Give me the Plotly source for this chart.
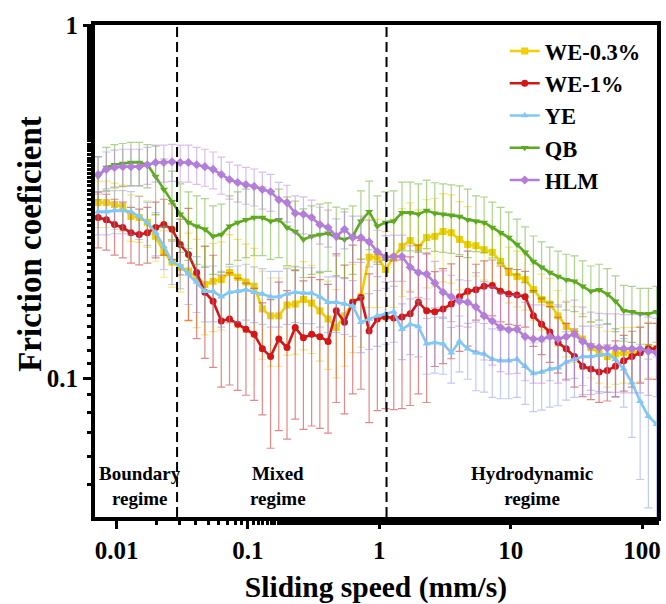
import numpy as np
import plotly.graph_objects as go

# Sliding speed (mm/s)
speed = [0.007244, 0.008366, 0.009660, 0.01116, 0.01288, 0.01488, 0.01718, 0.01984,
         0.02291, 0.02645, 0.03055, 0.03528, 0.04074, 0.04704, 0.05433, 0.06273,
         0.07244, 0.08366, 0.09660, 0.1116, 0.1288, 0.1488, 0.1718, 0.1984,
         0.2291, 0.2645, 0.3055, 0.3528, 0.4074, 0.4704, 0.5433, 0.6273,
         0.7244, 0.8366, 0.9660, 1.116, 1.288, 1.488, 1.718, 1.984,
         2.291, 2.645, 3.055, 3.528, 4.074, 4.704, 5.433, 6.273,
         7.244, 8.366, 9.660, 11.16, 12.88, 14.88, 17.18, 19.84,
         22.91, 26.45, 30.55, 35.28, 40.74, 47.04, 54.33, 62.73,
         72.44, 83.66, 96.60, 111.6, 128.8]

we03 = [0.314, 0.314, 0.310, 0.306, 0.287, 0.285, 0.276, 0.252, 0.227, 0.213, 0.206, 0.201,
        0.193, 0.184, 0.188, 0.190, 0.199, 0.193, 0.187, 0.182, 0.157, 0.150, 0.150,
        0.161, 0.162, 0.167, 0.163, 0.155, 0.147, 0.139, 0.150, 0.164, 0.170, 0.220, 0.220,
        0.203, 0.220, 0.236, 0.245, 0.234, 0.250, 0.252, 0.260, 0.258, 0.247, 0.239,
        0.237, 0.231, 0.227, 0.214, 0.199, 0.194, 0.190, 0.178, 0.167, 0.162, 0.150, 0.140,
        0.135, 0.129, 0.122, 0.118, 0.115, 0.117, 0.118, 0.118, 0.119, 0.122, 0.121]
we1 = [0.285, 0.281, 0.272, 0.267, 0.258, 0.255, 0.258, 0.267, 0.272, 0.264, 0.239, 0.224,
       0.199, 0.175, 0.165, 0.145, 0.147, 0.142, 0.1375, 0.133, 0.121, 0.115, 0.129,
       0.122, 0.139, 0.130, 0.133, 0.131, 0.127, 0.155, 0.144, 0.164, 0.169, 0.136, 0.147,
       0.149, 0.148, 0.149, 0.152, 0.164, 0.155, 0.154, 0.157, 0.162, 0.170, 0.176,
       0.178, 0.182, 0.183, 0.176, 0.173, 0.172, 0.170, 0.150, 0.142, 0.135, 0.126, 0.121,
       0.115, 0.108, 0.106, 0.104, 0.105, 0.108, 0.112, 0.115, 0.118, 0.121, 0.121]
ye = [0.296, 0.296, 0.298, 0.298, 0.296, 0.287, 0.276, 0.258, 0.236, 0.214, 0.208, 0.197,
      0.187, 0.176, 0.176, 0.170, 0.175, 0.176, 0.178, 0.175, 0.173, 0.170, 0.170,
      0.173, 0.175, 0.174, 0.174, 0.170, 0.164, 0.164, 0.162, 0.160, 0.144, 0.147, 0.150,
      0.152, 0.154, 0.1375, 0.142, 0.140, 0.125, 0.126, 0.125, 0.118, 0.127, 0.121,
      0.118, 0.117, 0.113, 0.112, 0.112, 0.113, 0.108, 0.103, 0.104, 0.106, 0.107, 0.111,
      0.113, 0.115, 0.115, 0.116, 0.117, 0.113, 0.106, 0.097, 0.086, 0.078, 0.074]
qb = [0.372, 0.395, 0.402, 0.405, 0.408, 0.408, 0.402, 0.372, 0.342, 0.316, 0.291, 0.276,
      0.269, 0.264, 0.252, 0.255, 0.269, 0.276, 0.281, 0.285, 0.285, 0.278, 0.281,
      0.267, 0.260, 0.247, 0.252, 0.255, 0.257, 0.250, 0.247, 0.252, 0.278, 0.296, 0.269,
      0.276, 0.278, 0.294, 0.294, 0.291, 0.298, 0.293, 0.291, 0.289, 0.287, 0.281,
      0.278, 0.276, 0.267, 0.258, 0.250, 0.239, 0.227, 0.214, 0.206, 0.199, 0.194, 0.190,
      0.188, 0.182, 0.176, 0.178, 0.173, 0.165, 0.155, 0.154, 0.152, 0.152, 0.154]
hlm = [0.377, 0.390, 0.395, 0.397, 0.397, 0.397, 0.402, 0.408, 0.408, 0.410, 0.408, 0.408,
       0.402, 0.397, 0.390, 0.377, 0.365, 0.358, 0.353, 0.349, 0.342, 0.337, 0.320,
       0.314, 0.293, 0.291, 0.285, 0.272, 0.267, 0.252, 0.264, 0.250, 0.250, 0.243, 0.228,
       0.220, 0.221, 0.221, 0.206, 0.199, 0.197, 0.186, 0.175, 0.170, 0.165, 0.164,
       0.159, 0.150, 0.145, 0.139, 0.137, 0.1375, 0.131, 0.129, 0.129, 0.131, 0.129, 0.131,
       0.133, 0.127, 0.123, 0.122, 0.1215, 0.1215, 0.121, 0.121, 0.121, 0.119, 0.118]

# relative standard deviations (fraction of the mean)
we03_rel = [0.15, 0.15, 0.15, 0.15, 0.15, 0.15, 0.15, 0.15, 0.15, 0.15, 0.15, 0.28,
            0.28, 0.28, 0.28, 0.28, 0.28, 0.28, 0.28, 0.28, 0.28, 0.28, 0.28, 0.28,
            0.28, 0.28, 0.28, 0.28, 0.28, 0.28, 0.28, 0.28, 0.28, 0.28, 0.28, 0.28,
            0.28, 0.28, 0.28, 0.28, 0.28, 0.28, 0.28, 0.28, 0.28, 0.28, 0.18, 0.18,
            0.18, 0.18, 0.18, 0.18, 0.18, 0.18, 0.18, 0.18, 0.18, 0.18, 0.18, 0.18,
            0.18, 0.18, 0.18, 0.18, 0.18, 0.18, 0.18, 0.18, 0.18]
we1_rel = [0.18, 0.18, 0.18, 0.18, 0.18, 0.18, 0.18, 0.18, 0.18, 0.18, 0.18, 0.35,
           0.35, 0.35, 0.35, 0.35, 0.35, 0.35, 0.35, 0.35, 0.35, 0.45, 0.45, 0.45,
           0.45, 0.45, 0.45, 0.45, 0.45, 0.45, 0.45, 0.45, 0.45, 0.45, 0.45, 0.45,
           0.45, 0.45, 0.45, 0.45, 0.45, 0.30, 0.30, 0.30, 0.30, 0.30, 0.18, 0.18,
           0.18, 0.18, 0.18, 0.18, 0.18, 0.18, 0.18, 0.18, 0.18, 0.18, 0.18, 0.18,
           0.18, 0.18, 0.18, 0.18, 0.18, 0.18, 0.18, 0.18, 0.18]
ye_rel = [0.14, 0.14, 0.14, 0.14, 0.14, 0.14, 0.14, 0.14, 0.14, 0.14, 0.14, 0.18,
          0.18, 0.18, 0.18, 0.18, 0.18, 0.18, 0.18, 0.18, 0.18, 0.18, 0.18, 0.18,
          0.18, 0.18, 0.18, 0.18, 0.18, 0.18, 0.18, 0.18, 0.18, 0.18, 0.18, 0.18,
          0.18, 0.18, 0.18, 0.18, 0.18, 0.18, 0.18, 0.18, 0.18, 0.18, 0.22, 0.22,
          0.22, 0.22, 0.22, 0.22, 0.22, 0.22, 0.22, 0.22, 0.22, 0.22, 0.22, 0.22,
          0.22, 0.22, 0.22, 0.22, 0.22, 0.30, 0.40, 0.45, 0.55]
qb_rel = [0.14, 0.14, 0.14, 0.14, 0.14, 0.14, 0.14, 0.22, 0.22, 0.22, 0.22, 0.22,
          0.22, 0.22, 0.22, 0.22, 0.22, 0.22, 0.22, 0.22, 0.22, 0.22, 0.22, 0.22,
          0.22, 0.22, 0.22, 0.22, 0.22, 0.22, 0.22, 0.22, 0.22, 0.22, 0.22, 0.22,
          0.22, 0.22, 0.22, 0.22, 0.22, 0.22, 0.22, 0.22, 0.22, 0.22, 0.18, 0.18,
          0.18, 0.18, 0.18, 0.18, 0.18, 0.18, 0.18, 0.18, 0.18, 0.18, 0.18, 0.18,
          0.18, 0.18, 0.18, 0.18, 0.18, 0.18, 0.18, 0.18, 0.18]
hlm_rel = [0.12, 0.12, 0.12, 0.12, 0.12, 0.12, 0.12, 0.12, 0.12, 0.12, 0.12, 0.12,
           0.12, 0.12, 0.12, 0.12, 0.12, 0.12, 0.12, 0.12, 0.12, 0.12, 0.12, 0.12,
           0.12, 0.12, 0.12, 0.12, 0.12, 0.12, 0.12, 0.15, 0.15, 0.15, 0.15, 0.15,
           0.15, 0.15, 0.15, 0.15, 0.15, 0.15, 0.15, 0.15, 0.15, 0.15, 0.25, 0.25,
           0.25, 0.25, 0.25, 0.25, 0.25, 0.25, 0.25, 0.25, 0.25, 0.25, 0.25, 0.25,
           0.25, 0.25, 0.25, 0.25, 0.25, 0.25, 0.25, 0.25, 0.25]

series_names = ["WE-0.3%", "WE-1%", "YE", "QB", "HLM"]
regime_bounds = [0.0289, 1.135]
regime_labels = ["Boundary<br>regime", "Mixed<br>regime", "Hydrodynamic<br>regime"]

FONT = "Liberation Serif"
styles = [
    (we03, we03_rel, "rgb(240,208,0)", "rgba(240,208,0,0.5)", "square"),
    (we1, we1_rel, "rgb(212,22,22)", "rgba(200,40,40,0.55)", "circle"),
    (ye, ye_rel, "rgb(128,200,245)", "rgba(130,150,230,0.5)", "triangle-up"),
    (qb, qb_rel, "rgb(92,170,30)", "rgba(92,170,30,0.5)", "triangle-down"),
    (hlm, hlm_rel, "rgb(178,126,218)", "rgba(178,126,218,0.5)", "diamond"),
]

fig = go.Figure()
for name, (vals, rel, col, ecol, sym) in zip(series_names, styles):
    err = np.array(vals) * np.array(rel)
    fig.add_trace(go.Scatter(
        x=speed, y=vals, name=name, mode="lines+markers",
        line=dict(color=col, width=2.6),
        marker=dict(symbol=sym, size=7, color=col),
        error_y=dict(type="data", array=err, visible=True, color=ecol,
                     thickness=1.2, width=4),
    ))

for xb in regime_bounds:
    fig.add_shape(type="line", xref="x", yref="y domain", x0=xb, x1=xb, y0=0, y1=1,
                  line=dict(color="black", width=2, dash="10px,5px"))

label_x = [0.0795, 0.326, 0.777]
for lx, txt in zip(label_x, regime_labels):
    fig.add_annotation(xref="paper", yref="paper", x=lx, y=0.063, text=txt,
                       showarrow=False, xanchor="center", yanchor="middle",
                       font=dict(family=FONT, size=19, color="black", weight="bold"))

fig.add_annotation(xref="paper", yref="paper", x=-0.115, y=0.556,
                   text="Friction coeficient", textangle=-90, showarrow=False,
                   xanchor="center", yanchor="middle",
                   font=dict(family=FONT, size=33, color="black", weight="bold"))

xr = [np.log10(0.00686), np.log10(129.8)]
yr = [np.log10(0.0404), 0.0]

fig.update_layout(
    width=666, height=604,
    margin=dict(l=95, r=5, t=25, b=86),
    paper_bgcolor="white", plot_bgcolor="white",
    font=dict(family=FONT, color="black"),
    showlegend=True,
    legend=dict(x=0.729, y=0.99, xanchor="left", yanchor="top",
                bgcolor="rgba(0,0,0,0)", borderwidth=0,
                font=dict(family=FONT, size=22.5, color="black", weight="bold"),
                tracegroupgap=0),
    xaxis=dict(type="log", range=xr, showgrid=False, zeroline=False,
               showline=True, linecolor="black", linewidth=4, mirror=True,
               ticks="outside", ticklen=8, tickwidth=3, tickcolor="black",
               tickvals=[0.01, 0.1, 1, 10, 100],
               ticktext=["0.01", "0.1", "1", "10", "100"],
               tickfont=dict(family=FONT, size=25, color="black", weight="bold"),
               minor=dict(ticks="outside", ticklen=4, tickwidth=3, tickcolor="black",
                          showgrid=False),
               title=dict(text="Sliding speed (mm/s)", standoff=14,
                          font=dict(family=FONT, size=29.5, color="black", weight="bold"))),
    yaxis=dict(type="log", range=yr, showgrid=False, zeroline=False,
               showline=True, linecolor="black", linewidth=4, mirror=True,
               ticks="outside", ticklen=8, tickwidth=3, tickcolor="black",
               tickvals=[0.1, 1], ticktext=["0.1", "1"],
               tickfont=dict(family=FONT, size=25, color="black", weight="bold"),
               minor=dict(ticks="outside", ticklen=4, tickwidth=3, tickcolor="black",
                          showgrid=False)),
    xaxis2=dict(type="log", range=xr, overlaying="x", side="top", anchor="y",
                showgrid=False, zeroline=False, showline=False, showticklabels=False,
                ticks="inside", ticklen=7, tickwidth=3, tickcolor="black",
                tickvals=[0.01, 0.1, 1, 10, 100]),
    yaxis2=dict(type="log", range=yr, overlaying="y", side="right", anchor="x",
                showgrid=False, zeroline=False, showline=False, showticklabels=False,
                ticks="inside", ticklen=7, tickwidth=3, tickcolor="black",
                tickvals=[0.1, 1]),
)

fig.write_html("out.html", config={"displayModeBar": False},
               post_script="document.body.style.margin='0';")
